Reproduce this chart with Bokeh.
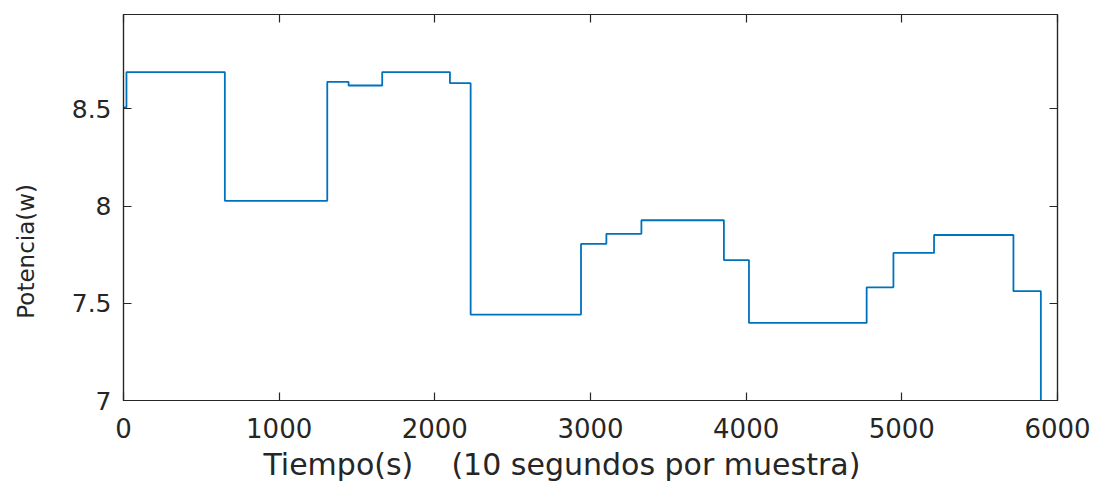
from bokeh.plotting import figure
from bokeh.models import LinearAxis, Range1d, FixedTicker
from bokeh.embed import file_html
from bokeh.resources import INLINE

# Step data (time in s, power in W)
tiempo = [0, 19, 651, 1309, 1446, 1662, 2097, 2230, 2939, 3102, 3327,
          3857, 4018, 4774, 4946, 5207, 5717, 5893]
potencia = [8.507, 8.689, 8.027, 8.639, 8.620, 8.689, 8.632, 7.442, 7.805,
            7.857, 7.927, 7.722, 7.399, 7.582, 7.759, 7.851, 7.562, 6.0]
x_ticks = [0, 1000, 2000, 3000, 4000, 5000, 6000]
y_ticks = [7, 7.5, 8, 8.5]
y_tick_labels = {7: "7", 7.5: "7.5", 8: "8", 8.5: "8.5"}

AX = "#262626"
FONT = "DejaVu Sans"

p = figure(width=1101, height=489, output_backend="svg", toolbar_location=None,
           x_range=Range1d(0, 6000), y_range=Range1d(7, 8.985),
           min_border_left=123, min_border_right=44, min_border_top=14,
           min_border_bottom=89, x_axis_location=None, y_axis_location=None)
p.grid.visible = False
p.outline_line_color = AX
p.outline_line_width = 1.2
p.background_fill_color = "white"
p.border_fill_color = "white"

p.step(tiempo, potencia, mode="after", line_color="#0072BD", line_width=1.8)

def style(ax, labels=True):
    ax.axis_line_color = AX
    ax.axis_line_width = 1.2
    ax.major_tick_line_color = AX
    ax.major_tick_line_width = 1.2
    ax.major_tick_in = 8
    ax.major_tick_out = 0
    ax.minor_tick_line_color = None
    ax.major_label_text_color = AX
    ax.major_label_text_font = FONT
    ax.axis_label_text_color = AX
    ax.axis_label_text_font = FONT
    ax.axis_label_text_font_style = "normal"
    if not labels:
        ax.major_label_text_font_size = "0px"
        ax.major_label_text_color = None
        ax.major_label_standoff = 0

xb = LinearAxis(ticker=FixedTicker(ticks=x_ticks))
style(xb)
xb.major_label_text_font_size = "26px"
xb.major_label_standoff = 17
xb.axis_label = "Tiempo(s)\u00a0\u00a0\u00a0\u00a0(10 segundos por muestra)" + "\u00a0" * 6
xb.axis_label_text_font_size = "30px"
xb.axis_label_standoff = 6
p.add_layout(xb, "below")

yl = LinearAxis(ticker=FixedTicker(ticks=y_ticks))
style(yl)
yl.major_label_overrides = y_tick_labels
yl.major_label_text_font_size = "25px"
yl.major_label_standoff = 12
yl.axis_label = "Potencia(w)" + "\u00a0" * 12
yl.axis_label_text_font_size = "23px"
yl.axis_label_standoff = 30
p.add_layout(yl, "left")

xt = LinearAxis(ticker=FixedTicker(ticks=x_ticks))
style(xt, labels=False)
p.add_layout(xt, "above")

yr = LinearAxis(ticker=FixedTicker(ticks=y_ticks))
style(yr, labels=False)
p.add_layout(yr, "right")

open("out.html", "w").write(file_html(p, INLINE))
